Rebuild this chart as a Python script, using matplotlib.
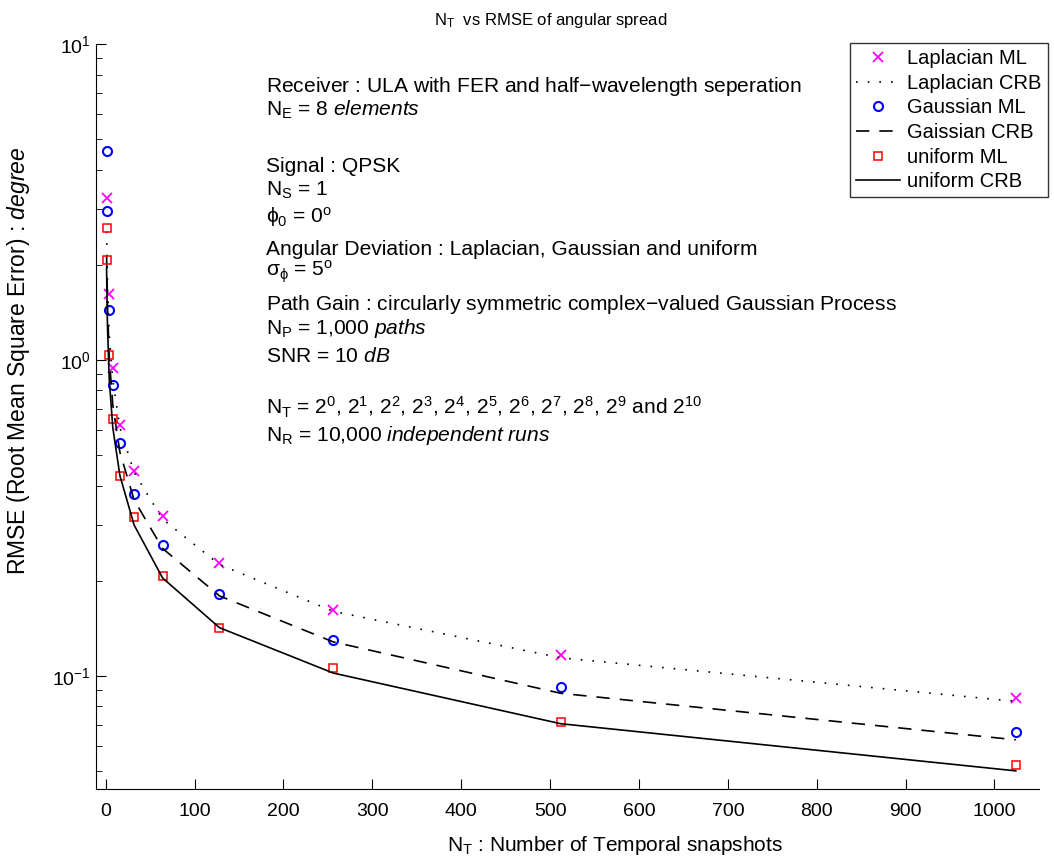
import numpy as np
import matplotlib.pyplot as plt

plt.rcParams['font.family'] = ['Liberation Sans', 'DejaVu Sans']
plt.rcParams['mathtext.fontset'] = 'custom'
plt.rcParams['mathtext.rm'] = 'Liberation Sans'
plt.rcParams['mathtext.it'] = 'Liberation Sans:italic'
plt.rcParams['mathtext.sf'] = 'Liberation Sans'

# number of temporal snapshots, 2^0 .. 2^10
nt = [1, 2, 4, 8, 16, 32, 64, 128, 256, 512, 1024]
nt_lap_ml = [2, 4, 8, 16, 32, 64, 128, 256, 512, 1024]

# RMSE results (degree)
lap_ml = [3.25, 1.62, 0.94, 0.62, 0.445, 0.32, 0.228, 0.162, 0.116, 0.085]
lap_crb = [2.55, 1.75, 1.2, 0.86, 0.61, 0.44, 0.313, 0.225, 0.16, 0.114, 0.083]
gau_ml = [4.6, 2.95, 1.44, 0.83, 0.545, 0.376, 0.26, 0.182, 0.13, 0.092, 0.0665]
gau_crb = [2.15, 1.48, 1.02, 0.72, 0.51, 0.36, 0.253, 0.179, 0.128, 0.088, 0.0627]
uni_ml = [2.62, 2.07, 1.04, 0.65, 0.43, 0.317, 0.207, 0.142, 0.106, 0.0715, 0.052]
uni_crb = [1.95, 1.28, 0.87, 0.61, 0.43, 0.3, 0.204, 0.142, 0.102, 0.0705, 0.05]

fig = plt.figure(figsize=(10.54, 8.61), dpi=100)
ax = fig.add_axes([0.091, 0.0836, 0.8947, 0.8653])

ax.semilogy(nt_lap_ml, lap_ml, 'x', color='magenta', ms=7, mew=1.3, label='Laplacian ML')
ax.semilogy(nt, lap_crb, color='black', lw=1.2, ls=(0, (1, 6)), label='Laplacian CRB')
ax.semilogy(nt, gau_ml, 'o', color='blue', mfc='none', ms=6.5, mew=1.5, label='Gaussian ML')
ax.semilogy(nt, gau_crb, color='black', lw=1.2, ls=(0, (8, 6)), label='Gaissian CRB')
ax.semilogy(nt, uni_ml, 's', color='red', mfc='none', ms=6, mew=1.1, label='uniform ML')
ax.semilogy(nt, uni_crb, color='black', lw=1.2, ls='-', label='uniform CRB')

ax.set_xlim(-11, 1050)
ax.set_ylim(0.0438, 10)
ax.set_xticks(range(0, 1001, 100))
ax.spines['top'].set_visible(False)
ax.spines['right'].set_visible(False)
ax.tick_params(which='both', direction='in', labelsize=14, color='black')
ax.tick_params(which='major', length=7)
ax.tick_params(which='minor', length=4)
ax.tick_params(axis='x', pad=10)

ax.set_title(r'$\mathregular{N_T}$  vs RMSE of angular spread', fontsize=12, pad=14, x=0.4825)
ax.set_xlabel(r'$\mathregular{N_T}$ : Number of Temporal snapshots', fontsize=15)
ax.xaxis.set_label_coords(0.55, -0.060)
ax.set_ylabel(r'RMSE (Root Mean Square Error) : $\it{degree}$', fontsize=16.5)
ax.yaxis.set_label_coords(-0.068, 0.5745)

# simulation setup notes
notes = [
    (86, r'Receiver : ULA with FER and half$-$wavelength seperation'),
    (110, r'$\mathregular{N_E}$ = 8 $\it{elements}$'),
    (167, r'Signal : QPSK'),
    (190, r'$\mathregular{N_S}$ = 1'),
    (217, r'$\mathregular{\phi_0}$ = $\mathregular{0^o}$'),
    (249, r'Angular Deviation : Laplacian, Gaussian and uniform'),
    (272, r'$\mathregular{\sigma_\phi}$ = $\mathregular{5^o}$'),
    (305, r'Path Gain : circularly symmetric complex$-$valued Gaussian Process'),
    (328, r'$\mathregular{N_P}$ = 1,000 $\it{paths}$'),
    (357, r'SNR = 10 $\it{dB}$'),
    (407, r'$\mathregular{N_T}$ = $\mathregular{2^0}$, $\mathregular{2^1}$, $\mathregular{2^2}$, '
          r'$\mathregular{2^3}$, $\mathregular{2^4}$, $\mathregular{2^5}$, $\mathregular{2^6}$, '
          r'$\mathregular{2^7}$, $\mathregular{2^8}$, $\mathregular{2^9}$ and $\mathregular{2^{10}}$'),
    (436, r'$\mathregular{N_R}$ = 10,000 $\it{independent\ runs}$'),
]
for ypix, txt in notes:
    fig.text(266 / 1054, 1 - ypix / 861, txt, fontsize=15.1, va='center', ha='left')

leg = ax.legend(loc='upper left', bbox_to_anchor=(850 / 1054, 1 - 43 / 861),
                bbox_transform=fig.transFigure, fontsize=14.5, frameon=True,
                fancybox=False, borderpad=0.3, labelspacing=0.28,
                handlelength=2.2, handletextpad=0.35, borderaxespad=0)
leg.get_frame().set_edgecolor('black')
leg.get_frame().set_linewidth(1.0)

fig.savefig('out.png', dpi=100)
